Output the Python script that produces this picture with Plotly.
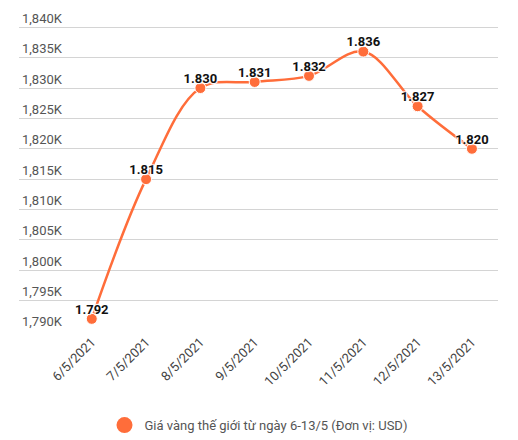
import plotly.graph_objects as go

# Giá vàng thế giới 6-13/5/2021
ngay = ['6/5/2021', '7/5/2021', '8/5/2021', '9/5/2021',
        '10/5/2021', '11/5/2021', '12/5/2021', '13/5/2021']
gia = [1792, 1815, 1830, 1831, 1832, 1836, 1827, 1820]
ten_series = 'Giá vàng thế giới từ ngày 6-13/5 (Đơn vị: USD)'

mau = '#ff6d3a'
# nhãn kiểu VN (dấu chấm), thêm dòng trống để nhãn sát chấm như bản gốc
nhan = [f'{v:,}'.replace(',', '.') + '<br> ' for v in gia]

fig = go.Figure()
fig.add_trace(go.Scatter(
    x=ngay, y=gia, name=ten_series, showlegend=False,
    mode='lines+markers+text',
    line=dict(color=mau, width=2.5, shape='spline', smoothing=1),
    marker=dict(color=mau, size=11, line=dict(color='white', width=1)),
    text=nhan, textposition='middle center',
    textfont=dict(family='Roboto', size=13, color='#111', weight='bold',
                  shadow='1px 1px 1px white, -1px -1px 1px white, 1px -1px 1px white, -1px 1px 1px white'),
    cliponaxis=False,
))
# chỉ để hiện chấm tròn trong chú thích
fig.add_trace(go.Scatter(
    x=[None], y=[None], name=ten_series, mode='markers',
    marker=dict(color=mau, size=17),
))

fig.update_layout(
    width=518, height=440,
    margin=dict(l=19, r=20, t=3, b=109, autoexpand=False),
    paper_bgcolor='white', plot_bgcolor='white',
    font=dict(family='Roboto', size=12, color='#555'),
    showlegend=True,
    legend=dict(orientation='h', x=0.5, xanchor='center', y=-0.287, yanchor='middle',
                font=dict(size=13, color='#555'), itemsizing='trace'),
)
fig.update_xaxes(
    type='category', range=[-1.34, 7.48], automargin=False,
    showgrid=False, showline=False, zeroline=False,
    tickangle=-45, tickfont=dict(size=13, color='#444'),
)
fig.update_yaxes(
    range=[1790, 1844], dtick=5, tickformat=',d', ticksuffix='K',
    ticklabelposition='inside top', automargin=False,
    showgrid=True, gridcolor='#d4d4d4', gridwidth=1,
    zeroline=False, showline=False,
    tickfont=dict(size=13, color='#555'),
)

# bỏ lề mặc định 8px của trang
fig.write_html('out.html', config={'displayModeBar': False},
               post_script="document.body.style.margin='0';")
